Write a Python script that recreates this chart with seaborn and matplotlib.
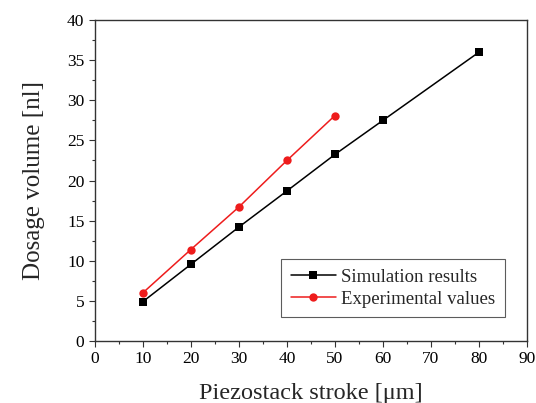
import matplotlib
matplotlib.use("Agg")
import matplotlib.pyplot as plt
import seaborn as sns
import pandas as pd
from matplotlib.ticker import MultipleLocator

sim_x = [10, 20, 30, 40, 50, 60, 80]
sim_y = [4.9, 9.55, 14.2, 18.7, 23.25, 27.5, 36.0]
exp_x = [10, 20, 30, 40, 50]
exp_y = [6.0, 11.4, 16.7, 22.5, 28.1]
series_names = ["Simulation results", "Experimental values"]

df = pd.concat([
    pd.DataFrame({"x": sim_x, "y": sim_y, "series": series_names[0]}),
    pd.DataFrame({"x": exp_x, "y": exp_y, "series": series_names[1]}),
])

sns.set_style("ticks")
plt.rcParams['font.family'] = ['Liberation Serif', 'DejaVu Serif']

fig = plt.figure(figsize=(5.36, 4.03), dpi=100)
ax = fig.add_axes([0.177, 0.154, 0.806, 0.796])

sns.lineplot(data=df, x="x", y="y", hue="series", style="series",
             palette={series_names[0]: "black", series_names[1]: "#ee1c1c"},
             markers={series_names[0]: "s", series_names[1]: "o"},
             dashes=False, markersize=6, linewidth=1.1, markeredgewidth=0,
             ax=ax)

ax.set_xlim(0, 90)
ax.set_ylim(0, 40)
ax.xaxis.set_major_locator(MultipleLocator(10))
ax.xaxis.set_minor_locator(MultipleLocator(5))
ax.yaxis.set_major_locator(MultipleLocator(5))
ax.yaxis.set_minor_locator(MultipleLocator(2.5))
ax.tick_params(which="major", direction="out", length=4, width=0.8, labelsize=12.5, colors="#333333", labelcolor="black")
ax.tick_params(which="minor", direction="out", length=2.5, width=0.8, colors="#333333")
for s in ax.spines.values():
    s.set_color("#333333")
    s.set_linewidth(1.0)

ax.set_xlabel("Piezostack stroke [μm]", fontsize=17.5, labelpad=11)
ax.set_ylabel("Dosage volume [nl]", fontsize=18, labelpad=16)

leg = ax.legend(loc="lower right", bbox_to_anchor=(0.949, 0.075), fontsize=13.5,
                frameon=True, fancybox=False, edgecolor="#333333",
                handlelength=2.4, handletextpad=0.3, borderpad=0.5,
                labelspacing=0.25, borderaxespad=0)
leg.get_frame().set_linewidth(0.8)
leg.set_title(None)

fig.savefig("out.png", dpi=100)
